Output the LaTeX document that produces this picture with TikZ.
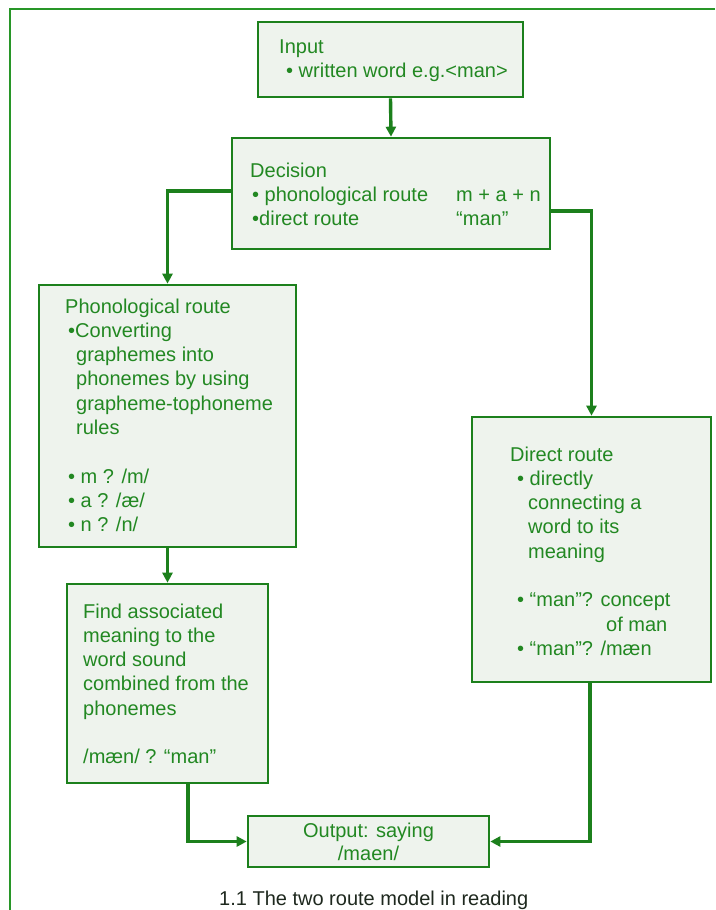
\documentclass[tikz,border=0pt]{standalone}
\usepackage{fontspec}
\setmainfont{Liberation Sans}
\usetikzlibrary{arrows.meta,calc}
\definecolor{gline}{RGB}{28,128,28}
\definecolor{gtext}{RGB}{34,136,34}
\definecolor{gfill}{RGB}{238,243,237}
\definecolor{gframe}{RGB}{40,150,40}
\definecolor{capcol}{RGB}{30,40,30}
\newcommand\tlines[1]{\begin{tabular}[t]{@{}l@{}}#1\end{tabular}}
\begin{document}
\begin{tikzpicture}[x=1pt,y=-1pt,
  box/.style={draw=gline, line width=2.6pt, fill=gfill, inner sep=0pt},
  txt/.style={text=gtext, inner sep=0pt, anchor=base west,
    font=\fontsize{20}{24.3}\selectfont},
  arr/.style={draw=gline, line width=3.4pt, -{Triangle[length=10pt,width=10pt]}}]
\useasboundingbox (0,0) rectangle (715,910);
\fill[white] (0,0) rectangle (715,910);
% outer frame
\draw[gframe, line width=2.4pt] (715,9) -- (10,9) -- (10,910);

% boxes
\node[box, minimum width=265pt, minimum height=75pt] (input) at (390.5,59.5) {};
\node[box, minimum width=318pt, minimum height=111pt] (decision) at (391,193.5) {};
\node[box, minimum width=257pt, minimum height=262pt] (phono) at (167.5,416) {};
\node[box, minimum width=201pt, minimum height=199pt] (find) at (167.5,683.5) {};
\node[box, minimum width=239pt, minimum height=265pt] (direct) at (591.5,549.5) {};
\node[box, minimum width=241pt, minimum height=51pt, align=center, text=gtext,
  font=\fontsize{20}{23}\selectfont] (output) at (368.5,841.5) {Output: saying\\/maen/};

% texts
\node[txt] (inputtxt) at (279,53) {\tlines{Input\\\hspace*{7pt}• written word e.g.<man>}};
\node[txt] (dectxt) at (250,177) {\tlines{Decision\\
\makebox[206pt][l]{\hspace*{2pt}• phonological route}m + a + n\\
\makebox[206pt][l]{\hspace*{2pt}•direct route}“man”}};
\node[txt] (phonotxt) at (65,313) {\tlines{Phonological route\\
\hspace*{3pt}•Converting\\
\hspace*{11pt}graphemes into\\
\hspace*{11pt}phonemes by using\\
\hspace*{11pt}grapheme-tophoneme\\
\hspace*{11pt}rules\\[24.3pt]
\hspace*{3pt}• m ? /m/\\
\hspace*{3pt}• a ? /æ/\\
\hspace*{3pt}• n ? /n/}};
\node[txt] (findtxt) at (83,618) {\tlines{Find associated\\
meaning to the\\
word sound\\
combined from the\\
phonemes\\[24.3pt]
/mæn/ ? “man”}};
\node[txt] (directtxt) at (510,461) {\tlines{Direct route\\
\hspace*{7pt}• directly\\
\hspace*{18pt}connecting a\\
\hspace*{18pt}word to its\\
\hspace*{18pt}meaning\\[24.3pt]
\hspace*{7pt}• “man”? concept\\
\hspace*{96pt}of man\\
\hspace*{7pt}• “man”? /mæn}};
\node[text=capcol, inner sep=0pt, anchor=base west, font=\fontsize{20}{24}\selectfont]
  (caption) at (219,905) {1.1 The two route model in reading};

% connectors
\draw[arr] (input.south) -- (decision.north);
\draw[arr] ([yshift=2.5pt]decision.west) -| (phono.north);
\draw[arr] ([yshift=-17.5pt]decision.east) -| (direct.north);
\draw[arr] (phono.south) -- (find.north);
\draw[arr] ([xshift=20.5pt]find.south) |- (output.west);
\draw[arr] ([xshift=-1.5pt]direct.south) |- (output.east);
\end{tikzpicture}
\end{document}
